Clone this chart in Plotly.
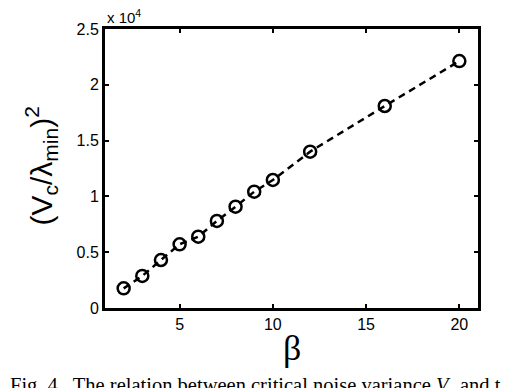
import plotly.graph_objects as go

# beta values and measured (V_c / lambda_min)^2
beta = [2, 3, 4, 5, 6, 7, 8, 9, 10, 12, 16, 20]
ratio_sq = [1760, 2870, 4300, 5710, 6390, 7800, 9080, 10420, 11470, 14010, 18100, 22130]

y_ticks = [0, 5000, 10000, 15000, 20000, 25000]
y_tick_text = ["0", "0.5", "1", "1.5", "2", "2.5"]
x_ticks = [5, 10, 15, 20]

caption = "Fig. 4.  The relation between critical noise variance <i>V</i><sub>c</sub> and t"

sans = "Liberation Sans, Arial, sans-serif"
serif = "Liberation Serif, Times New Roman, serif"

fig = go.Figure()
fig.add_trace(go.Scatter(
    x=beta, y=ratio_sq,
    mode="lines+markers",
    line=dict(color="black", width=2.5, dash="7px,5px"),
    marker=dict(symbol="circle-open", size=12, color="black", line=dict(width=2.5)),
    showlegend=False,
))

axis_common = dict(
    showline=True, linecolor="black", linewidth=3, mirror="ticks",
    ticks="inside", ticklen=4, tickwidth=1.5, tickcolor="black",
    showgrid=False, zeroline=False,
    tickfont=dict(family=sans, size=16, color="black"),
)

fig.update_xaxes(range=[1, 21], tickvals=x_ticks, **axis_common)
fig.update_yaxes(range=[0, 25000], tickvals=y_ticks, ticktext=y_tick_text, **axis_common)

# page body has an 8px margin, so the plot area is shifted up/left by that much
fig.update_layout(
    width=514, height=388,
    margin=dict(l=97, r=44, t=21, b=88),
    paper_bgcolor="white", plot_bgcolor="white",
    annotations=[
        dict(text="x 10<sup>4</sup>", x=0, y=1, xref="paper", yref="paper",
             xanchor="left", yanchor="bottom", yshift=1, showarrow=False,
             font=dict(family=sans, size=15, color="black")),
        dict(text="(V<sub>c</sub>/λ<sub>min</sub>)<sup>2</sup>", x=0, y=0.5,
             xref="paper", yref="paper", textangle=-90, xanchor="center", yanchor="middle",
             xshift=-64, yshift=2, showarrow=False, font=dict(family=sans, size=30, color="black")),
        dict(text="β", x=0.5, y=0, xref="paper", yref="paper", xanchor="center",
             yanchor="top", yshift=-18, showarrow=False,
             font=dict(family=serif, size=36, color="black")),
        dict(text=caption, x=0, y=0, xref="paper", yref="paper", xanchor="left",
             yanchor="top", xshift=-97, yshift=-64, showarrow=False, align="left",
             font=dict(family=serif, size=20.5, color="black")),
    ],
)

fig.write_html("out.html")
